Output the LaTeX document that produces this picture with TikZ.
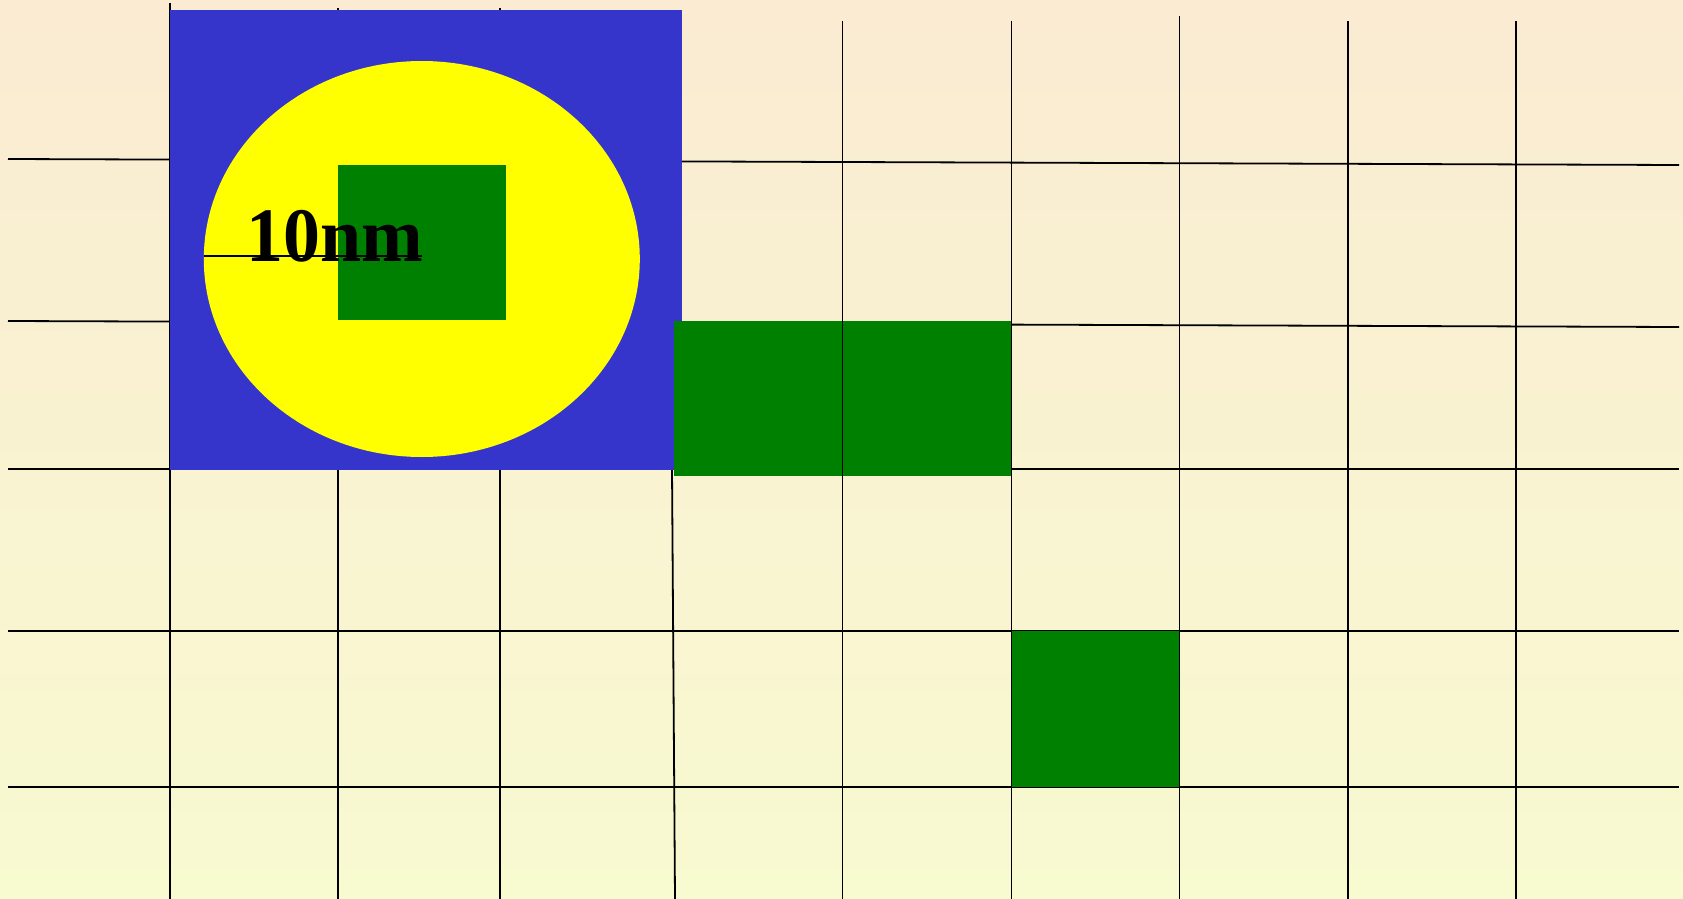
\documentclass[tikz,border=0pt]{standalone}
\usepackage{fontspec}
\setmainfont{Liberation Serif}
\definecolor{bgtop}{RGB}{250,235,210}
\definecolor{bgbot}{RGB}{248,250,208}
\definecolor{cblue}{RGB}{53,53,204}
\definecolor{cgreen}{RGB}{0,128,0}
\definecolor{cyellow}{RGB}{255,255,0}
\tikzset{
  gridline/.style={black,line width=1.8pt},
  greenbox/.style={fill=cgreen,draw=none},
}
\begin{document}
\begin{tikzpicture}[x=1pt,y=-1pt]
\useasboundingbox (0,0) rectangle (1683,899);
\shade[top color=bgtop,bottom color=bgbot] (0,0) rectangle (1683,899);
% horizontal lines
\draw[gridline] (8,159) -- (1679,165);
\draw[gridline] (8,321) -- (1679,327);
\draw[gridline] (8,469) -- (1679,469);
\draw[gridline] (8,631) -- (1679,631);
\draw[gridline] (8,787) -- (1679,787);
% green square on the grid
\fill[greenbox] (1011,631) rectangle (1180,787);
% vertical lines
\draw[gridline] (169.6,3) -- (169.6,899);
\draw[gridline] (338,8.5) -- (338,899);
\draw[gridline] (500,8.5) -- (500,899);
\draw[gridline] (672,469) -- (675,899);
\draw[gridline] (1179.5,16) -- (1179.5,899);
\draw[gridline] (1348,21.5) -- (1348,899);
\draw[gridline] (1516,21.5) -- (1516,899);
% blue square with yellow circle
\fill[cblue] (170,10) rectangle (681.5,469.5);
\fill[cyellow] (421.8,259) ellipse [x radius=218, y radius=198];
\fill[greenbox] (338,165) rectangle (505.5,320);
\coordinate (cl) at (203.8,256);
\coordinate (cc) at (422,256);
\draw[black,line width=1.8pt] (cl) -- (cc);
\node[anchor=base west,inner sep=0pt,font=\bfseries\fontsize{77}{77}\selectfont,xscale=0.96] (lab) at (246,261.7) {10nm};
% green squares next to the blue square (drawn over it)
\fill[greenbox] (673.5,321) rectangle (1010.5,475.5);
\draw[gridline] (842.5,21.5) -- (842.5,899);
\draw[gridline] (1011.5,21.5) -- (1011.5,899);
\end{tikzpicture}
\end{document}
